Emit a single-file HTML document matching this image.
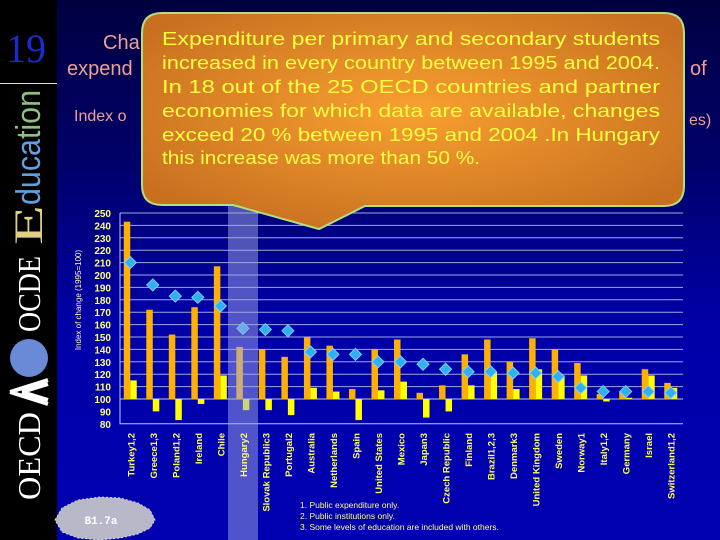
<!DOCTYPE html>
<html><head><meta charset="utf-8">
<style>
body{margin:0;width:720px;height:540px;overflow:hidden;background:#000;font-family:"Liberation Sans",sans-serif}
#wrap{position:relative;width:720px;height:540px;background:linear-gradient(#000040 0%,#00006a 30%,#0000a8 60%,#0000b0 100%)}
#side{position:absolute;left:0;top:0;width:57px;height:540px;background:#000}
.abs{position:absolute}
</style></head><body>
<div id="wrap">
<div id="side">
 <svg width="57" height="540" style="position:absolute;left:0;top:0">
  <text x="6" y="62" font-family="Liberation Serif,serif" font-size="40" fill="#1a2bd0">19</text>
  <line x1="0" y1="83.5" x2="57" y2="83.5" stroke="#ddd"/>
  <g>
   <text transform="translate(42,245) rotate(-90)" font-family="Liberation Serif,serif" font-size="40" fill="#e0d080" textLength="40" lengthAdjust="spacingAndGlyphs">E</text>
   <text transform="translate(40,205) rotate(-90)" font-family="Liberation Sans,sans-serif" font-size="34" textLength="115" lengthAdjust="spacingAndGlyphs"><tspan fill="#60a0e0">duca</tspan><tspan fill="#90c080">tion</tspan></text>
  </g>
  <g>
   <text transform="translate(40,332) rotate(-90)" font-family="Liberation Serif,serif" font-size="32" fill="#fff" textLength="76" lengthAdjust="spacingAndGlyphs">OCDE</text>
   <circle cx="29" cy="358" r="19" fill="#6a8ad8"/>
   <path d="M10,392 L48,380 M10,392 L48,404 M22,392 L48,384 M22,392 L48,400" stroke="#fff" stroke-width="4"/>
   <text transform="translate(40,500) rotate(-90)" font-family="Liberation Serif,serif" font-size="32" fill="#fff" textLength="88" lengthAdjust="spacingAndGlyphs">OECD</text>
  </g>
 </svg>
</div>
<div class="abs" style="left:103px;top:32px;color:#f0a090;font-size:20px">Cha</div>
<div class="abs" style="left:67px;top:58px;color:#f0a090;font-size:20px">expend</div>
<div class="abs" style="left:690px;top:58px;color:#f0a090;font-size:20px">of</div>
<div class="abs" style="left:74px;top:108px;color:#f0a090;font-size:16px">Index o</div>
<div class="abs" style="left:689px;top:112px;color:#f0a090;font-size:16px">es)</div>
<svg class="abs" style="left:0;top:0" width="720" height="540">
<defs><radialGradient id="cg" cx="50%" cy="45%" r="60%"><stop offset="0" stop-color="#f8a030"/><stop offset="1" stop-color="#c87020"/></radialGradient></defs>
<g id="grid"></g><g id="marks"></g>
<rect x="228" y="205" width="30" height="335" fill="#a0a8e8" opacity="0.5"/>
<g id="labels"></g>
<path d="M162,13 H664 Q684,13 684,33 V186 Q684,206 664,206 H365 L319,229 L233,205 H162 Q142,205 142,185 V33 Q142,13 162,13 Z" fill="url(#cg)" stroke="#b0e080" stroke-width="2"/>
<text font-family="Liberation Sans,sans-serif" font-size="18" fill="#ffff40">
<tspan x="162" y="45" textLength="498" lengthAdjust="spacingAndGlyphs">Expenditure per primary and secondary students</tspan>
<tspan x="162" y="69" textLength="498" lengthAdjust="spacingAndGlyphs">increased in every country between 1995 and 2004.</tspan>
<tspan x="162" y="93" textLength="498" lengthAdjust="spacingAndGlyphs">In 18 out of the 25 OECD countries and partner</tspan>
<tspan x="162" y="117" textLength="498" lengthAdjust="spacingAndGlyphs">economies for which data are available, changes</tspan>
<tspan x="162" y="141" textLength="498" lengthAdjust="spacingAndGlyphs">exceed 20 %  between 1995 and 2004 .In Hungary</tspan>
<tspan x="162" y="164" textLength="318" lengthAdjust="spacingAndGlyphs">this increase was more than 50 %.</tspan></text>
<text transform="translate(81,300) rotate(-90)" text-anchor="middle" font-size="8" fill="#ffffa0" font-family="Liberation Sans,sans-serif">Index of change (1995=100)</text>
<polygon points="55,520 62,508 78,500 100,497 120,498 138,503 150,510 155,520 150,528 138,534 120,538 100,540 78,538 62,532" fill="#b8b8c8" stroke="#d8d8e0" stroke-dasharray="2 2"/>
<text x="101" y="524" text-anchor="middle" font-size="11" fill="#fff" font-family="Liberation Mono,monospace" font-weight="bold">B1.7a</text>
<g font-size="8.5" fill="#ffff80" font-family="Liberation Sans,sans-serif">
<text x="300" y="508">1.   Public expenditure only.</text>
<text x="300" y="519">2.   Public institutions only.</text>
<text x="300" y="530">3.   Some levels of education are included with others.</text></g>
</svg>
</div>
<script>
const countries=["Turkey1,2","Greece1,3","Poland1,2","Ireland","Chile","Hungary2","Slovak Republic3","Portugal2","Australia","Netherlands","Spain","United States","Mexico","Japan3","Czech Republic","Finland","Brazil1,2,3","Denmark3","United Kingdom","Sweden","Norway1","Italy1,2","Germany","Israel","Switzerland1,2"];
const orangeVals=[243,172,152,174,207,142,140,134,150,143,108,140,148,105,111,136,148,130,149,140,129,104,106,124,113];
const yellowVals=[115,90,83,96,119,91,91,87,109,106,83,107,114,85,90,111,122,108,124,119,119,98,101,119,109];
const diamondVals=[210,192,183,182,175,157,156,155,138,136,136,130,130,128,124,122,122,121,121,118,109,106,106,106,105];
const yTicks=[80,90,100,110,120,130,140,150,160,170,180,190,200,210,220,230,240,250];
const NS="http://www.w3.org/2000/svg";
const x0=120,x1=683,step=(x1-x0)/countries.length;
const y=v=>399-(v-100)*1.24;
const cx=i=>x0+step*(i+0.5);
function mk(t,a,p){const e=document.createElementNS(NS,t);for(const k in a)e.setAttribute(k,a[k]);p.appendChild(e);return e;}
const grid=document.getElementById('grid'),marks=document.getElementById('marks'),labels=document.getElementById('labels');
yTicks.forEach(v=>{
 if(v>100){const l=mk('line',{x1:x0,x2:x1,y1:y(v),y2:y(v),stroke:'#a0a8e0','stroke-width':1},grid);
 
 }
 const t=mk('text',{x:111,y:y(v)+4,'text-anchor':'end','font-size':10,'font-weight':'bold',fill:'#ffff80','font-family':'Liberation Sans,sans-serif'},labels);
 t.textContent=v;
 
 
});
const ax=mk('path',{d:`M${x0},${y(250)} V${y(80)} H${x1} M${x0},${y(100)} H${x1}`,stroke:'#c0c8f0',fill:'none','stroke-width':1},grid);


countries.forEach((c,i)=>{
 const c0=cx(i);
 const o=orangeVals[i],yv=yellowVals[i],d=diamondVals[i];
 const ob=mk('rect',{x:c0-7.5,y:Math.min(y(o),y(100)),width:6.5,height:Math.abs(y(o)-y(100)),fill:'#ffb000'},marks);
 
 
 const yb=mk('rect',{x:c0-1,y:Math.min(y(yv),y(100)),width:6.5,height:Math.abs(y(yv)-y(100)),fill:'#ffff00'},marks);
 
 
 const dy=y(d),dx=c0-1;
 const dm=mk('polygon',{points:`${dx},${dy-6} ${dx+6},${dy} ${dx},${dy+6} ${dx-6},${dy}`,fill:'#30b0f0',stroke:'#80d0ff','stroke-width':1},marks);
 
 
 const t=mk('text',{transform:`translate(${c0+3},433) rotate(-90)`,'text-anchor':'end','font-size':9.5,'font-weight':'bold',fill:'#ffff60','font-family':'Liberation Sans,sans-serif'},labels);
 t.textContent=c;
 
 
});
</script>
</body></html>
